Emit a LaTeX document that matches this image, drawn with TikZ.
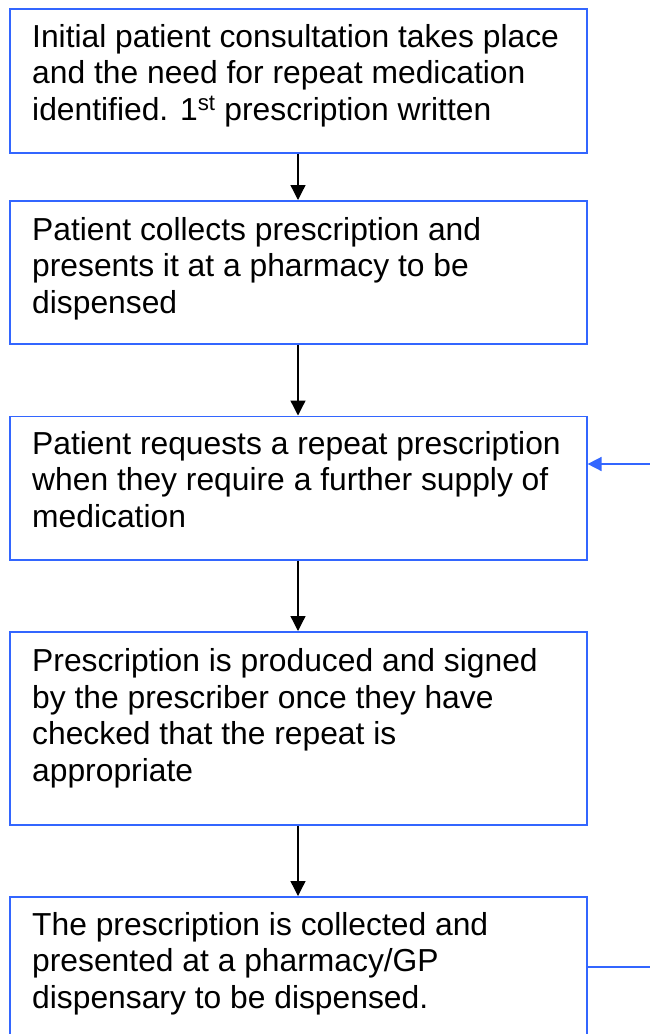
\documentclass[tikz,border=0pt]{standalone}
\usepackage{fontspec}
\setmainfont{Liberation Sans}
\usetikzlibrary{arrows.meta}
\definecolor{boxblue}{RGB}{51,102,255}
\tikzset{
  stepbox/.style={draw=boxblue, line width=1.6pt, rectangle, minimum width=577pt, inner sep=0pt, anchor=north west},
  boxtext/.style={anchor=base west, inner sep=0pt, align=left, font=\fontsize{31.8}{36.5}\selectfont},
  flow/.style={draw=black, line width=1.3pt, -{Triangle[length=15pt,width=15pt]}},
  back/.style={draw=boxblue, line width=1.6pt}
}
\begin{document}
\begin{tikzpicture}[x=1pt,y=-1pt]
\useasboundingbox (0,0) rectangle (650,1034);
\node[stepbox, minimum height=144pt] (b1) at (9,8) {};
\node[stepbox, minimum height=143pt] (b2) at (9,200) {};
\node[stepbox, minimum height=143.5pt] (b3) at (9,415.5) {};
\node[stepbox, minimum height=193pt] (b4) at (9,631) {};
\node[stepbox, minimum height=160pt] (b5) at (9,896) {};
% anchor base = baseline of last line
\node[boxtext] (t1) at (32,47+73) {Initial patient consultation takes place\\and the need for repeat medication\\identified. 1\textsuperscript{st} prescription written};
\node[boxtext] (t2) at (32,240+73) {Patient collects prescription and\\presents it at a pharmacy to be\\dispensed};
\node[boxtext] (t3) at (32,454+73) {Patient requests a repeat prescription\\when they require a further supply of\\medication};
\node[boxtext] (t4) at (32,671.5+109.5) {Prescription is produced and signed\\by the prescriber once they have\\checked that the repeat is\\appropriate};
\node[boxtext] (t5) at (32,935+73) {The prescription is collected and\\presented at a pharmacy/GP\\dispensary to be dispensed.};
\coordinate (bx) at (298,0);
\draw[flow] (b1.south -| bx) -- (b2.north -| bx);
\draw[flow] (b2.south -| bx) -- (b3.north -| bx);
\draw[flow] (b3.south -| bx) -- (b4.north -| bx);
\draw[flow] (b4.south -| bx) -- (b5.north -| bx);
\coordinate (r3) at (652,464);
\coordinate (r5) at (652,967);
\draw[back, -{Triangle[length=14pt,width=14pt]}] (r3) -- (r3 -| b3.east);
\draw[back] (r5 -| b5.east) -- (r5);
\end{tikzpicture}
\end{document}
